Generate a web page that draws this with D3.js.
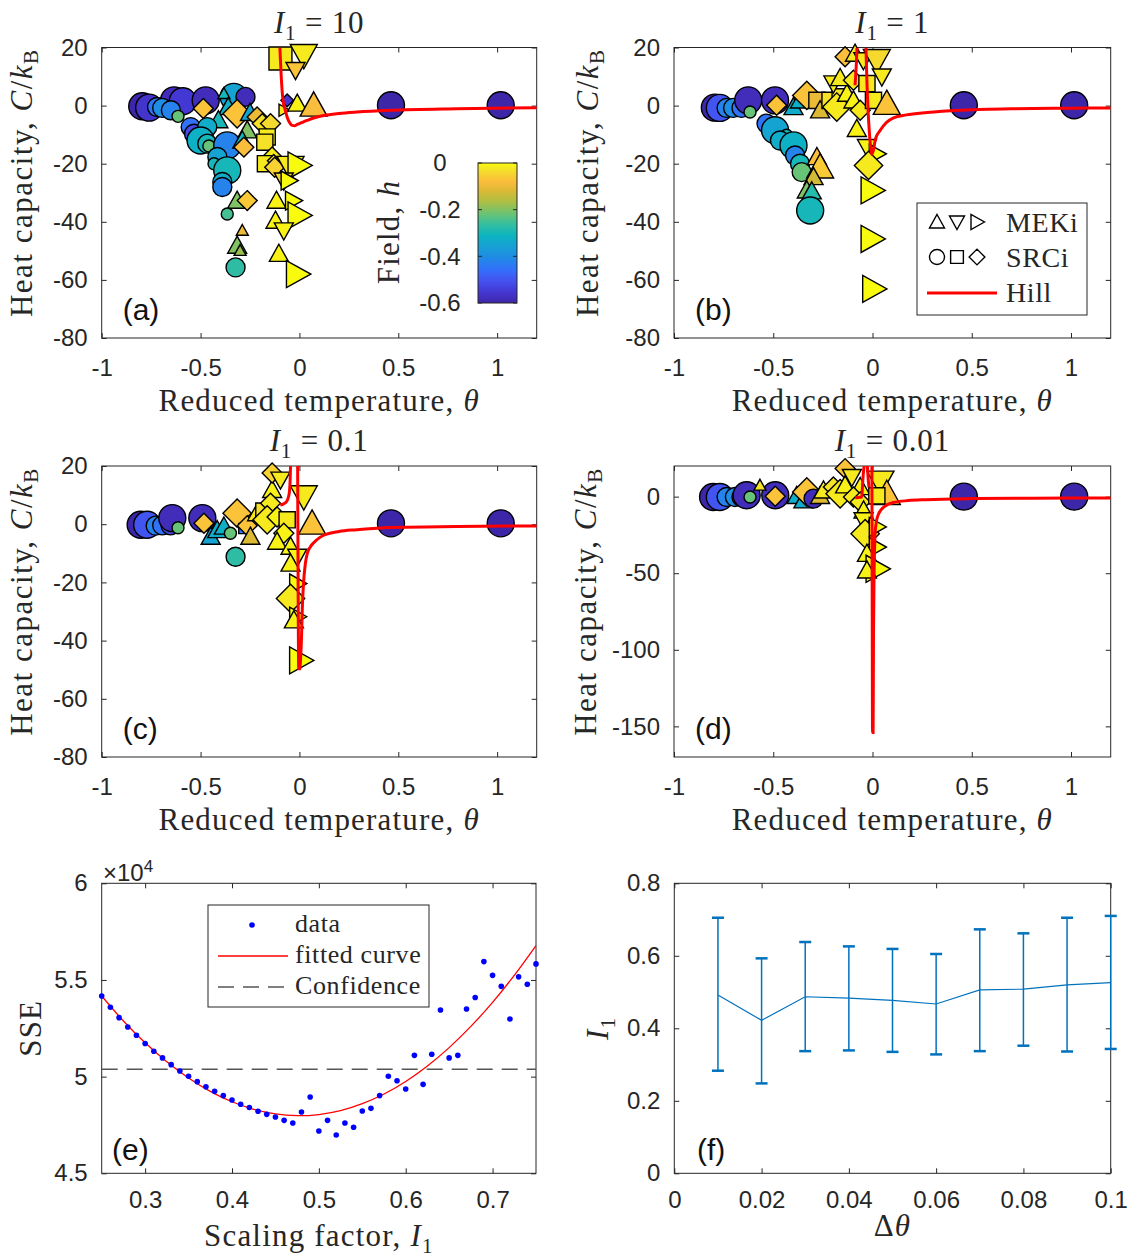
<!DOCTYPE html>
<html><head><meta charset="utf-8">
<script src="https://d3js.org/d3.v7.min.js"></script>
<style>
html,body{margin:0;padding:0;background:#fff;}
svg{display:block;}
text{white-space:pre;}
</style></head>
<body>
<svg id="fig" width="1127" height="1260" xmlns="http://www.w3.org/2000/svg"></svg>
<script>
// ================= DATA =================
const thetaTicks = [-1, -0.5, 0, 0.5, 1];
const heatTicks = [-80, -60, -40, -20, 0, 20];
const heatTicksD = [-150, -100, -50, 0];
const fieldTicks = [0, -0.2, -0.4, -0.6];
const couplingLabels = ["10", "1", "0.1", "0.01"];
const panelLetters = ["(a)", "(b)", "(c)", "(d)", "(e)", "(f)"];
const methodLegend = ["MEKi", "SRCi", "Hill"];
const fitLegend = ["data", "fitted curve", "Confidence"];

// markers: [theta, C/kB, field h, shape, size class]
// shapes: o circle, s square, d diamond, ^ up, v down, > right
const pointsA = [
  [-0.795,-0.2,-0.6,'o',3],[-0.76,-0.7,-0.56,'o',3],[-0.634,1.8,-0.58,'o',3],[-0.59,1.5,-0.55,'o',3],
  [-0.474,1.8,-0.58,'o',3],[-0.72,-0.5,-0.45,'o',2],[-0.694,-0.8,-0.4,'o',2],[-0.65,-1.6,-0.42,'o',2],
  [-0.614,-3.7,-0.22,'o',1],[-0.55,-7.4,-0.45,'o',2],[-0.533,-9.7,-0.52,'o',2],[-0.486,-1.0,-0.07,'d',2],
  [-0.332,3,-0.35,'o',3],[-0.273,3,-0.58,'o',2],[-0.382,4.1,-0.3,'^',1],[-0.36,-0.5,-0.32,'^',2],
  [-0.41,-5,-0.3,'^',2],[-0.315,-2.8,-0.07,'d',3],[-0.25,-2.5,-0.35,'^',2],[-0.466,-7.4,-0.33,'o',2],
  [-0.5,-12,-0.32,'o',3],[-0.466,-13.1,-0.3,'o',2],[-0.458,-13.9,-0.22,'o',1],[-0.365,-13.7,-0.42,'o',3],
  [-0.415,-17.7,-0.35,'o',2],[-0.432,-20,-0.3,'o',1],[-0.365,-22.3,-0.3,'o',3],[-0.39,-26.3,-0.33,'o',2],
  [-0.39,-28,-0.42,'o',2],[-0.264,-8.5,-0.2,'^',2],[-0.289,-12,-0.3,'^',2],[-0.281,-14.3,-0.08,'d',2],
  [-0.315,-32.7,-0.2,'^',2],[-0.264,-32.7,-0.06,'d',2],[-0.365,-37.3,-0.25,'o',1],[-0.289,-43,-0.1,'^',1],
  [-0.315,-48.2,-0.2,'^',2],[-0.3,-49.9,-0.18,'^',1],[-0.323,-55.7,-0.27,'o',2],
  [-0.214,-3.9,-0.1,'d',2],[-0.188,-6.2,-0.03,'d',2],[-0.146,-6.2,-0.04,'d',2],[-0.163,-10.8,-0.02,'s',2],
  [-0.175,-12.6,-0.03,'s',2],[-0.138,-17.7,-0.02,'d',2],[-0.172,-20,-0.02,'s',2],[-0.13,-19,-0.05,'d',1],
  [-0.125,-21.2,-0.05,'d',2],[-0.045,-21.2,-0.02,'v',3],[-0.003,-20.6,0,'>',3],[-0.079,-25.8,-0.05,'v',2],
  [-0.054,-25.8,0,'>',2],[-0.116,-32.7,-0.01,'^',2],[-0.032,-32.7,0,'>',2],[-0.121,-39.6,-0.01,'^',2],
  [-0.003,-37.8,0,'>',3],[-0.079,-43,-0.01,'v',2],[-0.104,-51,-0.01,'^',2],[-0.011,-58,0,'>',3],
  [-0.096,16.2,-0.02,'s',3],[0.022,17.3,-0.02,'v',3],[-0.02,12.2,-0.07,'v',2],[-0.062,1.8,-0.55,'d',1],
  [-0.079,-1.6,-0.02,'>',1],[-0.011,0.7,-0.01,'^',2],[0.072,0.1,-0.08,'^',3],
  [0.463,0.1,-0.6,'o',3],[1.018,0.1,-0.6,'o',3]
];
const pointsB = [
  [-0.794,-0.7,-0.6,'o',3],[-0.769,-0.8,-0.5,'o',3],[-0.735,-0.8,-0.42,'o',2],[-0.702,-0.8,-0.4,'o',2],
  [-0.66,-0.8,-0.45,'o',2],[-0.626,1.8,-0.58,'o',3],[-0.617,-2.2,-0.22,'o',1],[-0.491,1.8,-0.58,'o',3],
  [-0.483,0.1,-0.07,'d',2],[-0.398,-0.5,-0.33,'^',2],[-0.365,1.8,-0.32,'^',2],[-0.331,3.5,-0.07,'d',3],
  [-0.28,1.8,-0.1,'s',2],[-0.264,-1.6,-0.12,'^',2],[-0.534,-6.2,-0.45,'o',2],[-0.491,-8.5,-0.35,'o',3],
  [-0.433,-10.2,-0.3,'o',1],[-0.466,-12,-0.33,'o',2],[-0.398,-13.7,-0.32,'o',3],[-0.39,-17.2,-0.42,'o',2],
  [-0.365,-20,-0.3,'o',2],[-0.357,-22.9,-0.22,'o',2],[-0.28,-17.7,-0.08,'^',2],[-0.264,-21.2,-0.06,'^',3],
  [-0.297,-24.6,-0.13,'^',2],[-0.331,-29.2,-0.2,'^',2],[-0.306,-29.5,-0.28,'^',2],[-0.314,-36.1,-0.3,'o',3],
  [-0.214,1.8,-0.03,'s',2],[-0.163,3,-0.03,'s',2],[-0.18,-0.5,-0.02,'d',3],[-0.129,4.1,-0.01,'^',2],
  [-0.197,7.6,-0.02,'v',2],[-0.163,9.5,-0.02,'^',2],[-0.138,16.8,-0.08,'d',2],[-0.088,17.9,-0.02,'^',2],
  [-0.096,8.7,-0.02,'d',2],[-0.046,15.6,-0.02,'v',2],[0.022,15.6,-0.04,'v',3],[0.047,10,-0.02,'v',2],
  [-0.028,7.6,-0.02,'s',2],[-0.096,1.8,-0.01,'^',2],[-0.062,-1.6,-0.02,'d',2],[-0.079,-8,-0.01,'^',2],
  [0.005,1.8,-0.02,'s',2],[0.072,0.7,-0.07,'^',3],[-0.028,-14.3,-0.01,'v',2],[0.022,-16.6,0,'>',2],
  [-0.02,-20.6,-0.02,'d',3],[-0.003,-29.2,0,'>',3],[-0.003,-45.9,0,'>',3],[0.005,-63.1,0,'>',3],
  [0.46,0.1,-0.6,'o',3],[1.016,0.1,-0.6,'o',3]
];
const pointsC = [
  [-0.803,-0.2,-0.6,'o',3],[-0.77,-0.2,-0.5,'o',3],[-0.727,-0.5,-0.42,'o',2],[-0.694,-0.4,-0.45,'o',2],
  [-0.652,-0.4,-0.52,'o',2],[-0.643,2.1,-0.58,'o',3],[-0.614,-1.2,-0.22,'o',1],[-0.491,2.1,-0.58,'o',3],
  [-0.483,0.3,-0.07,'d',2],[-0.449,-4.3,-0.35,'^',2],[-0.416,-2,-0.33,'^',2],[-0.382,-0.8,-0.32,'^',2],
  [-0.349,-3.1,-0.22,'o',1],[-0.315,3.8,-0.07,'d',3],[-0.281,-1.5,-0.45,'s',1],[-0.264,-0.5,-0.07,'d',2],
  [-0.248,-4.3,-0.12,'^',2],[-0.323,-11.2,-0.27,'o',2],[-0.214,3.8,-0.02,'^',2],[-0.18,4.5,-0.03,'s',2],
  [-0.138,11.8,-0.01,'^',2],[-0.138,17.6,-0.05,'d',2],[-0.096,15.3,-0.02,'v',2],[-0.146,7.2,-0.02,'d',2],
  [-0.163,1.5,-0.02,'d',3],[-0.113,2.5,-0.01,'d',2],[-0.062,1.5,-0.02,'s',2],[-0.079,-3.1,-0.01,'d',2],
  [-0.113,-6,-0.01,'^',2],[0.022,9.5,-0.02,'v',3],[0.064,0.3,-0.07,'^',3],[-0.045,-7.7,-0.01,'^',2],
  [-0.011,-11.2,-0.01,'v',2],[-0.045,-13.5,-0.01,'^',2],[-0.011,-20.4,0,'>',2],[-0.045,-25.5,-0.02,'d',3],
  [-0.011,-31.8,0,'>',2],[-0.028,-33,-0.01,'^',2],[0.005,-46.8,0,'>',3],
  [0.463,0.3,-0.6,'o',3],[1.018,0.3,-0.6,'o',3]
];
const pointsD = [
  [-0.803,-0.2,-0.6,'o',3],[-0.769,-0.2,-0.5,'o',3],[-0.735,-0.2,-0.42,'o',2],[-0.693,-0.2,-0.4,'o',2],
  [-0.66,-0.2,-0.48,'o',2],[-0.634,0.9,-0.58,'o',3],[-0.617,-0.2,-0.22,'o',1],[-0.49,0.9,-0.58,'o',3],
  [-0.49,0.3,-0.07,'d',2],[-0.567,7.4,-0.03,'^',1],[-0.382,0.5,-0.33,'^',2],[-0.348,-2.4,-0.33,'^',2],
  [-0.331,3,-0.07,'d',3],[-0.297,-1.3,-0.58,'o',2],[-0.264,0.5,-0.12,'^',2],[-0.247,4.1,-0.02,'^',2],
  [-0.197,6.3,-0.03,'d',2],[-0.163,1.9,-0.02,'d',3],[-0.138,18.3,-0.07,'d',2],[-0.104,12.8,-0.02,'v',2],
  [-0.138,7.4,-0.01,'^',2],[-0.062,6.3,-0.01,'^',2],[-0.096,-0.2,-0.02,'d',2],[-0.062,-3.5,-0.02,'d',2],
  [0.04,9.6,-0.02,'v',3],[0.072,1.9,-0.07,'^',3],[0.022,0.5,-0.02,'s',2],[-0.045,-9,-0.01,'^',2],
  [-0.045,-15.5,-0.01,'v',2],[-0.037,-24.2,-0.02,'d',3],[0.022,-19.8,0,'>',2],[0.022,-32.9,0,'>',2],
  [-0.028,-37.3,-0.01,'^',2],[0.022,-47.1,0,'>',3],[-0.028,-48.2,-0.01,'^',2],
  [0.46,0,-0.6,'o',3],[1.016,0,-0.6,'o',3]
];

// Hill model curves: list of branches of [theta, C/kB]
const hillA = [
  [[-0.099,20],[-0.092,9.9],[-0.083,1.8],[-0.072,-1.5],[-0.062,-4],[-0.05,-5.8],[-0.037,-6.8],[-0.025,-6.9],
   [-0.011,-6.5],[0.01,-5.9],[0.039,-5.1],[0.08,-4.1],[0.123,-3.4],[0.2,-2.7],[0.291,-2.2],[0.46,-1.6],
   [0.797,-1.06],[1.2,-0.7]]
];
const hillB = [
  [[-0.088,7],[-0.085,10],[-0.081,15],[-0.078,20]],
  [[-0.033,20],[-0.028,8],[-0.022,-2],[-0.016,-9],[-0.01,-14],[-0.004,-16.8],[0.004,-15.5],[0.015,-11.5],
   [0.039,-8.5],[0.07,-5.8],[0.106,-4.2],[0.17,-3.2],[0.275,-2.4],[0.44,-1.6],[0.7,-1.1],[1.0,-0.9],[1.2,-0.8]]
];
const hillC = [
  [[-0.097,6.6],[-0.08,7],[-0.065,7.8],[-0.055,9.5],[-0.05,11.5],[-0.047,15],[-0.045,20]],
  [[-0.009,20],[-0.008,0],[-0.006,-30],[-0.004,-49.7],[0.002,-49.7],[0.006,-46],[0.01,-40],[0.015,-28],
   [0.02,-21],[0.03,-13.5],[0.04,-10],[0.055,-7.8],[0.072,-6.4],[0.1,-4.7],[0.123,-3.8],[0.2,-2.5],
   [0.29,-1.9],[0.46,-1.1],[0.8,-0.8],[1.2,-0.6]]
];
const hillD = [
  [[-0.087,-0.7],[-0.07,-0.5],[-0.054,-0.3],[-0.05,8],[-0.047,14],[-0.042,20]],
  [[-0.026,20],[-0.022,12],[-0.018,6]],
  [[-0.003,20],[-0.002,-40],[-0.001,-100],[0,-154],[0.003,-154],[0.005,-90],[0.008,-50],[0.011,-32],
   [0.013,-24],[0.02,-16],[0.03,-11.5],[0.038,-9.5],[0.06,-6.5],[0.105,-3.8],[0.18,-2.6],[0.27,-2],
   [0.5,-1.3],[0.8,-1],[1.2,-0.9]]
];

// Panel (e): SSE (x 1e4) vs scaling factor
const scalingFactor = [0.25,0.26,0.27,0.28,0.29,0.30,0.31,0.32,0.33,0.34,0.35,0.36,0.37,0.38,0.39,0.40,0.41,
  0.42,0.43,0.44,0.45,0.46,0.47,0.48,0.49,0.50,0.51,0.52,0.53,0.54,0.55,0.56,0.57,0.58,0.59,0.60,0.61,0.62,
  0.63,0.64,0.65,0.66,0.67,0.68,0.69,0.70,0.71,0.72,0.73,0.74,0.75];
const sseValues = [5.417,5.359,5.305,5.257,5.214,5.171,5.131,5.097,5.062,5.029,5.002,4.974,4.948,4.924,4.902,
  4.879,4.857,4.840,4.821,4.805,4.791,4.774,4.760,4.817,4.895,4.719,4.774,4.698,4.760,4.738,4.822,4.836,
  4.902,5.002,4.979,4.936,5.110,4.960,5.116,5.345,5.097,5.110,5.350,5.409,5.595,5.524,5.467,5.298,5.516,
  5.478,5.583];
const fitScaling = [0.25,0.275,0.30,0.325,0.35,0.375,0.40,0.425,0.45,0.475,0.50,0.525,0.55,0.575,0.60,0.625,
  0.65,0.675,0.70,0.725,0.75];
const fitSSE = [5.417,5.288,5.175,5.077,4.993,4.924,4.870,4.831,4.807,4.798,4.804,4.824,4.860,4.910,4.975,
  5.055,5.150,5.260,5.384,5.524,5.678];
const confidenceSSE = 5.038;
const sfTicks = [0.3, 0.4, 0.5, 0.6, 0.7];
const sseTicks = [4.5, 5, 5.5, 6];

// Panel (f): I1 vs delta theta
const dTheta = [0.01,0.02,0.03,0.04,0.05,0.06,0.07,0.08,0.09,0.10];
const i1Mean = [0.492,0.422,0.487,0.483,0.477,0.467,0.506,0.508,0.520,0.526];
const i1Low  = [0.283,0.248,0.337,0.339,0.335,0.328,0.337,0.352,0.336,0.343];
const i1High = [0.705,0.593,0.638,0.626,0.619,0.605,0.673,0.662,0.705,0.710];
const dThetaTicks = [0, 0.02, 0.04, 0.06, 0.08, 0.1];
const i1Ticks = [0, 0.2, 0.4, 0.6, 0.8];

// ================= STYLE / LAYOUT =================
const AX = '#262626';
const SANS = "'Liberation Sans', Arial, Helvetica, sans-serif";
const SERIF = "'Liberation Serif', 'Times New Roman', serif";
const TICK = 5;
const LAB = 31;
const SIZE = {1: 12, 2: 19, 3: 27};
const parulaStops = ['#3e26a8','#4437d3','#4453ef','#3370fb','#2089e6','#179fd6','#0cb3c1','#33bfa0',
  '#6cc373','#abbf45','#dbb935','#fcbd3c','#f4dc2c','#f9fb0e'];
const parulaT = [0,0.08,0.16,0.24,0.32,0.40,0.48,0.56,0.64,0.72,0.80,0.87,0.94,1];
const tScale = d3.scaleLinear().domain(parulaT).range(parulaStops).interpolate(d3.interpolateRgb).clamp(true);
const parula = h => tScale((h + 0.6) / 0.6);

const svg = d3.select('#fig');
const defs = svg.append('defs');

function markerPath(shape, s) {
  const r = s / 2;
  switch (shape) {
    case 'o': return d3.symbol(d3.symbolCircle, Math.PI * r * r)();
    case 's': { const a = r * 0.85; return `M${-a},${-a}H${a}V${a}H${-a}Z`; }
    case 'd': { const b = r * 1.05; return `M0,${-b}L${b},0L0,${b}L${-b},0Z`; }
    case '^': return `M0,${-r}L${r},${r*0.8}L${-r},${r*0.8}Z`;
    case 'v': return `M0,${r}L${r},${-r*0.8}L${-r},${-r*0.8}Z`;
    case '>': return `M${r},0L${-r*0.8},${r}L${-r*0.8},${-r}Z`;
  }
}

function drawAxes(g, x, y, xTicks, yTicks, pad) {
  const [x0, x1] = x.range();
  const [yb, yt] = y.range();
  const axes = [
    g.append('g').attr('transform', `translate(0,${yb})`)
      .call(d3.axisBottom(x).tickValues(xTicks).tickSizeInner(-TICK).tickSizeOuter(0).tickPadding(pad || 21).tickFormat(d => String(d))),
    g.append('g').attr('transform', `translate(0,${yt})`)
      .call(d3.axisTop(x).tickValues(xTicks).tickSizeInner(-TICK).tickSizeOuter(0).tickFormat('')),
    g.append('g').attr('transform', `translate(${x0},0)`)
      .call(d3.axisLeft(y).tickValues(yTicks).tickSizeInner(-TICK).tickSizeOuter(0).tickPadding(14).tickFormat(d => String(d))),
    g.append('g').attr('transform', `translate(${x1},0)`)
      .call(d3.axisRight(y).tickValues(yTicks).tickSizeInner(-TICK).tickSizeOuter(0).tickFormat(''))
  ];
  axes.forEach(a => {
    a.select('.domain').remove();
    a.selectAll('line').attr('stroke', AX).attr('stroke-width', 1);
    a.selectAll('text').attr('font-family', SANS).attr('font-size', 24).attr('fill', AX);
  });
  g.append('rect').attr('x', x0).attr('y', yt).attr('width', x1 - x0).attr('height', yb - yt)
    .attr('fill', 'none').attr('stroke', AX).attr('stroke-width', 1);
}

function serifText(g, x, y, rot, size, ls) {
  const t = g.append('text').attr('font-family', SERIF).attr('font-size', size || LAB).attr('fill', AX)
    .attr('text-anchor', 'middle').attr('letter-spacing', ls == null ? 1.2 : ls);
  if (rot) t.attr('transform', `translate(${x},${y}) rotate(-90)`);
  else t.attr('x', x).attr('y', y);
  return t;
}

function i1Text(t, tail) {
  t.append('tspan').attr('font-style', 'italic').text('I');
  t.append('tspan').attr('font-size', 21).attr('dy', 7).text('1');
  if (tail) t.append('tspan').attr('dy', -7).text(tail);
}

function panelLetter(g, x, y, s) {
  g.append('text').attr('x', x).attr('y', y).attr('font-family', SANS).attr('font-size', 30)
    .attr('fill', '#111').text(s);
}

function heatPanel(idx, box, yDomain, yTicks, points, hill, labelX) {
  const g = svg.append('g');
  const x = d3.scaleLinear().domain([-1, 1.2]).range([box.l, box.r]);
  const y = d3.scaleLinear().domain(yDomain).range([box.b, box.t]);
  drawAxes(g, x, y, thetaTicks, yTicks);
  const clipId = 'clip' + idx;
  defs.append('clipPath').attr('id', clipId).append('rect')
    .attr('x', box.l).attr('y', box.t).attr('width', box.r - box.l).attr('height', box.b - box.t);

  g.append('g').selectAll('path').data(points).join('path')
    .attr('d', d => markerPath(d[3], SIZE[d[4]]))
    .attr('transform', d => `translate(${x(d[0])},${y(d[1])})`)
    .attr('fill', d => parula(d[2])).attr('stroke', '#000').attr('stroke-width', 1.4)
    .attr('stroke-linejoin', 'miter');

  const line = d3.line().x(d => x(d[0])).y(d => y(d[1])).curve(d3.curveMonotoneX);
  g.append('g').attr('clip-path', `url(#${clipId})`).selectAll('path').data(hill).join('path')
    .attr('d', line).attr('fill', 'none').attr('stroke', '#ff0000').attr('stroke-width', 3);

  const cx = (box.l + box.r) / 2;
  const tt = serifText(g, cx, box.t - 15, false, LAB, 0.8);
  i1Text(tt, ' = ' + couplingLabels[idx]);
  serifText(g, cx, box.b + 73, false).text('Reduced temperature, ')
    .append('tspan').attr('font-style', 'italic').text('θ');
  const yl = serifText(g, labelX, (box.t + box.b) / 2 - 10, true, LAB, 1.5);
  yl.append('tspan').text('Heat capacity, ');
  yl.append('tspan').attr('font-style', 'italic').text('C');
  yl.append('tspan').text('/');
  yl.append('tspan').attr('font-style', 'italic').text('k');
  yl.append('tspan').attr('font-size', 21).attr('dy', 6).text('B');
  panelLetter(g, box.l + 21, box.b - 18, panelLetters[idx]);
  return {g, x, y};
}

const boxA = {l: 101.7, r: 536.7, t: 47.5, b: 338};
const boxB = {l: 674, r: 1110.7, t: 47.5, b: 338};
const boxC = {l: 101.7, r: 536.7, t: 466, b: 757};
const boxD = {l: 674, r: 1110.7, t: 466, b: 757};

const pA = heatPanel(0, boxA, [-80, 20], heatTicks, pointsA, hillA, 32);
const pB = heatPanel(1, boxB, [-80, 20], heatTicks, pointsB, hillB, 598);
heatPanel(2, boxC, [-80, 20], heatTicks, pointsC, hillC, 32);
heatPanel(3, boxD, [-170, 20], heatTicksD, pointsD, hillD, 596);

// ---- colorbar in (a)
{
  const cb = {l: 478, r: 517, t: 163, b: 303};
  const cy = d3.scaleLinear().domain([-0.6, 0]).range([cb.b, cb.t]);
  const grad = defs.append('linearGradient').attr('id', 'parulaGrad')
    .attr('x1', 0).attr('y1', 1).attr('x2', 0).attr('y2', 0);
  d3.range(0, 1.0001, 0.02).forEach(t => grad.append('stop').attr('offset', t).attr('stop-color', tScale(t)));
  const g = pA.g;
  g.append('rect').attr('x', cb.l).attr('y', cb.t).attr('width', cb.r - cb.l).attr('height', cb.b - cb.t)
    .attr('fill', 'url(#parulaGrad)').attr('stroke', AX).attr('stroke-width', 1);
  fieldTicks.forEach(v => {
    g.append('line').attr('x1', cb.l).attr('x2', cb.l + 4).attr('y1', cy(v)).attr('y2', cy(v)).attr('stroke', AX);
    g.append('line').attr('x1', cb.r - 4).attr('x2', cb.r).attr('y1', cy(v)).attr('y2', cy(v)).attr('stroke', AX);
    g.append('text').attr('x', 440).attr('y', cy(v)).attr('dy', '0.35em').attr('text-anchor', 'middle')
      .attr('font-family', SANS).attr('font-size', 24).attr('fill', AX).text(String(v));
  });
  const fl = serifText(g, 399, 232, true, LAB, 1.2);
  fl.append('tspan').text('Field, ');
  fl.append('tspan').attr('font-style', 'italic').text('h');
}

// ---- legend in (b)
{
  const g = pB.g;
  g.append('rect').attr('x', 917).attr('y', 203).attr('width', 170).attr('height', 112)
    .attr('fill', '#fff').attr('stroke', AX).attr('stroke-width', 1);
  const rows = [
    {shapes: ['^', 'v', '>'], y: 222},
    {shapes: ['o', 's', 'd'], y: 257}
  ];
  rows.forEach((row, i) => {
    row.shapes.forEach((s, j) => {
      g.append('path').attr('d', markerPath(s, 15)).attr('transform', `translate(${937 + j * 20},${row.y})`)
        .attr('fill', 'none').attr('stroke', '#000').attr('stroke-width', 1.4);
    });
    g.append('text').attr('x', 1006).attr('y', row.y + 10).attr('font-family', SERIF).attr('font-size', 28)
      .attr('letter-spacing', 0.6).attr('fill', AX).text(methodLegend[i]);
  });
  g.append('line').attr('x1', 927).attr('x2', 997).attr('y1', 293).attr('y2', 293)
    .attr('stroke', '#ff0000').attr('stroke-width', 3);
  g.append('text').attr('x', 1006).attr('y', 302).attr('font-family', SERIF).attr('font-size', 28)
    .attr('letter-spacing', 0.6).attr('fill', AX).text(methodLegend[2]);
}

// ---- panel (e)
{
  const box = {l: 101.7, r: 536, t: 883.3, b: 1173.3};
  const g = svg.append('g');
  const x = d3.scaleLinear().domain([0.25, 0.75]).range([box.l, box.r]);
  const y = d3.scaleLinear().domain([4.5, 6]).range([box.b, box.t]);
  drawAxes(g, x, y, sfTicks, sseTicks, 18);
  g.append('line').attr('x1', box.l).attr('x2', box.r).attr('y1', y(confidenceSSE)).attr('y2', y(confidenceSSE))
    .attr('stroke', '#555').attr('stroke-width', 1.5).attr('stroke-dasharray', '16,9');
  g.append('path').datum(fitScaling.map((v, i) => [v, fitSSE[i]]))
    .attr('d', d3.line().x(d => x(d[0])).y(d => y(d[1])).curve(d3.curveCatmullRom))
    .attr('fill', 'none').attr('stroke', '#ff0000').attr('stroke-width', 1.3);
  g.append('g').selectAll('circle').data(scalingFactor.map((v, i) => [v, sseValues[i]])).join('circle')
    .attr('cx', d => x(d[0])).attr('cy', d => y(d[1])).attr('r', 2.8).attr('fill', '#0000ff');
  const ex = g.append('text').attr('x', 103).attr('y', 881).attr('font-family', SANS).attr('font-size', 24).attr('fill', AX);
  ex.append('tspan').text('×10');
  ex.append('tspan').attr('font-size', 17).attr('dy', -9).text('4');
  g.append('rect').attr('x', 208).attr('y', 905).attr('width', 221).attr('height', 102)
    .attr('fill', '#fff').attr('stroke', AX).attr('stroke-width', 1);
  g.append('circle').attr('cx', 252).attr('cy', 925).attr('r', 2.8).attr('fill', '#0000ff');
  g.append('line').attr('x1', 218).attr('x2', 288).attr('y1', 956).attr('y2', 956).attr('stroke', '#ff0000').attr('stroke-width', 1.3);
  g.append('line').attr('x1', 218).attr('x2', 288).attr('y1', 987).attr('y2', 987).attr('stroke', '#555')
    .attr('stroke-width', 1.5).attr('stroke-dasharray', '16,9');
  fitLegend.forEach((s, i) => {
    g.append('text').attr('x', 295).attr('y', 932 + i * 31).attr('font-family', SERIF).attr('font-size', 26)
      .attr('letter-spacing', 0.6).attr('fill', AX).text(s);
  });
  serifText(g, (box.l + box.r) / 2, 1246, false).call(t => {
    t.append('tspan').text('Scaling factor, ');
    i1Text(t);
  });
  serifText(g, 41, (box.t + box.b) / 2, true, LAB, 1.2).text('SSE');
  panelLetter(g, 112, 1160, panelLetters[4]);
}

// ---- panel (f)
{
  const box = {l: 674.3, r: 1110.7, t: 883.3, b: 1173.3};
  const g = svg.append('g');
  const x = d3.scaleLinear().domain([0, 0.1]).range([box.l, box.r]);
  const y = d3.scaleLinear().domain([0, 0.8]).range([box.b, box.t]);
  drawAxes(g, x, y, dThetaTicks, i1Ticks, 18);
  const col = '#0072bd';
  const eb = g.append('g').attr('stroke', col);
  dTheta.forEach((d, i) => {
    eb.append('line').attr('x1', x(d)).attr('x2', x(d)).attr('y1', y(i1Low[i])).attr('y2', y(i1High[i])).attr('stroke-width', 1.5);
    eb.append('line').attr('x1', x(d) - 6).attr('x2', x(d) + 6).attr('y1', y(i1Low[i])).attr('y2', y(i1Low[i])).attr('stroke-width', 2.5);
    eb.append('line').attr('x1', x(d) - 6).attr('x2', x(d) + 6).attr('y1', y(i1High[i])).attr('y2', y(i1High[i])).attr('stroke-width', 2.5);
  });
  g.append('path').datum(dTheta.map((d, i) => [d, i1Mean[i]]))
    .attr('d', d3.line().x(d => x(d[0])).y(d => y(d[1])))
    .attr('fill', 'none').attr('stroke', col).attr('stroke-width', 1.2);
  serifText(g, (box.l + box.r) / 2, 1236, false).call(t => {
    t.append('tspan').text('Δ');
    t.append('tspan').attr('font-style', 'italic').text('θ');
  });
  serifText(g, 608, (box.t + box.b) / 2, true).call(t => i1Text(t));
  panelLetter(g, 697, 1160, panelLetters[5]);
}
</script>
</body></html>
